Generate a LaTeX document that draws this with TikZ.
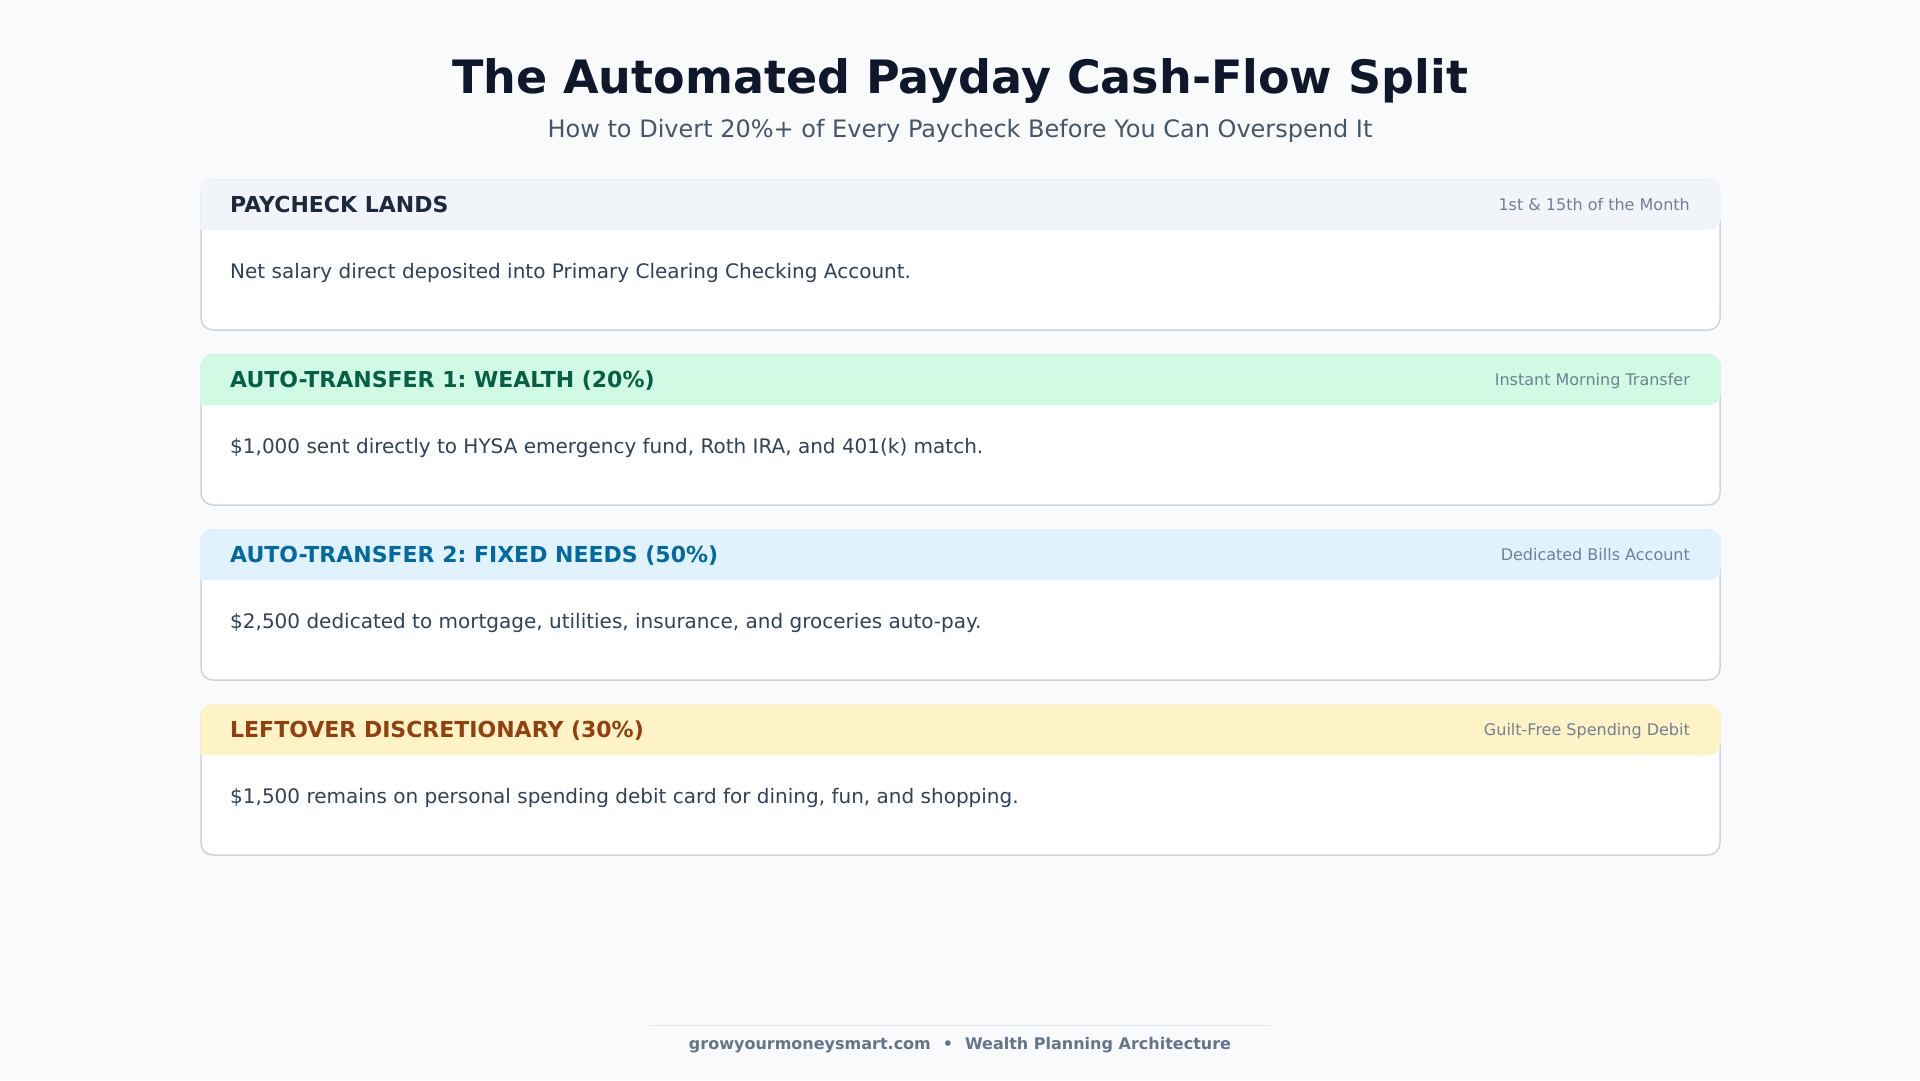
\documentclass[tikz,border=0pt]{standalone}
\usepackage{fontspec}
\setmainfont{DejaVu Sans}
\frenchspacing
\definecolor{pagebg}{HTML}{F8FAFC}
\definecolor{titlec}{HTML}{0F172A}
\definecolor{subc}{HTML}{475569}
\definecolor{bodyc}{HTML}{334155}
\definecolor{tagc}{HTML}{64748B}
\definecolor{edgec}{HTML}{CBD5E1}
\definecolor{rulec}{HTML}{E2E8F0}
\definecolor{hdrpay}{HTML}{F1F5F9}
\definecolor{txtpay}{HTML}{1E293B}
\definecolor{hdrwealth}{HTML}{D1FAE5}
\definecolor{txtwealth}{HTML}{065F46}
\definecolor{hdrneeds}{HTML}{E0F2FE}
\definecolor{txtneeds}{HTML}{0369A1}
\definecolor{hdrfun}{HTML}{FEF3C7}
\definecolor{txtfun}{HTML}{92400E}
\begin{document}
\begin{tikzpicture}[x=1pt,y=1pt,
    card/.style={draw=edgec,line width=1.5pt,fill=white,rounded corners=12pt,
      minimum width=1519pt,minimum height=150pt,inner sep=0pt},
    hdrtext/.style={anchor=base west,inner sep=0pt,font=\fontsize{22}{26}\selectfont\bfseries},
    tagtext/.style={anchor=base east,inner sep=0pt,text=tagc,text opacity=0.9,font=\fontsize{16}{19}\selectfont},
    bodytext/.style={anchor=base west,inner sep=0pt,text=bodyc,font=\fontsize{20}{24}\selectfont}]
    %% Page
    \fill[pagebg] (0,0) rectangle (1920,-1080);
    \useasboundingbox (0,0) rectangle (1920,-1080);
    %% Title
    \node[anchor=base,inner sep=0pt,text=titlec,font=\fontsize{46}{54}\selectfont\bfseries] (title) at (960,-93) {The Automated Payday Cash-Flow Split};
    \node[anchor=base,inner sep=0pt,text=subc,font=\fontsize{24}{28}\selectfont] (subtitle) at (960,-137) {How to Divert 20\%+ of Every Paycheck Before You Can Overspend It};
    %% Card 1
    \node[card] (pay) at (960.5,-255) {};
    \fill[hdrpay,rounded corners=12pt] (pay.west |- 0,-230) |- (pay.north) -| (pay.east |- 0,-230) [sharp corners] -- cycle;
    \node[hdrtext,text=txtpay] (payh) at (230,-212) {PAYCHECK LANDS};
    \node[tagtext] (payt) at (1690,-210) {1st \& 15th of the Month};
    \node[bodytext] (payb) at (230,-278) {Net salary direct deposited into Primary Clearing Checking Account.};
    %% Card 2
    \node[card] (wealth) at (960.5,-430) {};
    \fill[hdrwealth,rounded corners=12pt] (wealth.west |- 0,-405) |- (wealth.north) -| (wealth.east |- 0,-405) [sharp corners] -- cycle;
    \node[hdrtext,text=txtwealth] (wealthh) at (230,-387) {AUTO-TRANSFER 1: WEALTH (20\%)};
    \node[tagtext] (wealtht) at (1690,-385) {Instant Morning Transfer};
    \node[bodytext] (wealthb) at (230,-453) {\$1,000 sent directly to HYSA emergency fund, Roth IRA, and 401(k) match.};
    %% Card 3
    \node[card] (needs) at (960.5,-605) {};
    \fill[hdrneeds,rounded corners=12pt] (needs.west |- 0,-580) |- (needs.north) -| (needs.east |- 0,-580) [sharp corners] -- cycle;
    \node[hdrtext,text=txtneeds] (needsh) at (230,-562) {AUTO-TRANSFER 2: FIXED NEEDS (50\%)};
    \node[tagtext] (needst) at (1690,-560) {Dedicated Bills Account};
    \node[bodytext] (needsb) at (230,-628) {\$2,500 dedicated to mortgage, utilities, insurance, and groceries auto-pay.};
    %% Card 4
    \node[card] (fun) at (960.5,-780) {};
    \fill[hdrfun,rounded corners=12pt] (fun.west |- 0,-755) |- (fun.north) -| (fun.east |- 0,-755) [sharp corners] -- cycle;
    \node[hdrtext,text=txtfun] (funh) at (230,-737) {LEFTOVER DISCRETIONARY (30\%)};
    \node[tagtext] (funt) at (1690,-735) {Guilt-Free Spending Debit};
    \node[bodytext] (funb) at (230,-803) {\$1,500 remains on personal spending debit card for dining, fun, and shopping.};
    %% Footer
    \coordinate (rulel) at (650,-1025);
    \coordinate (ruler) at (1270,-1025);
    \draw[rulec,line width=1pt] (rulel) -- (ruler);
    \node[anchor=base,inner sep=0pt,text=tagc,font=\fontsize{16}{19}\selectfont\bfseries] (footer) at (960,-1049) {growyourmoneysmart.com\hspace{12pt}\textbullet\hspace{12pt}Wealth Planning Architecture};
\end{tikzpicture}
\end{document}
